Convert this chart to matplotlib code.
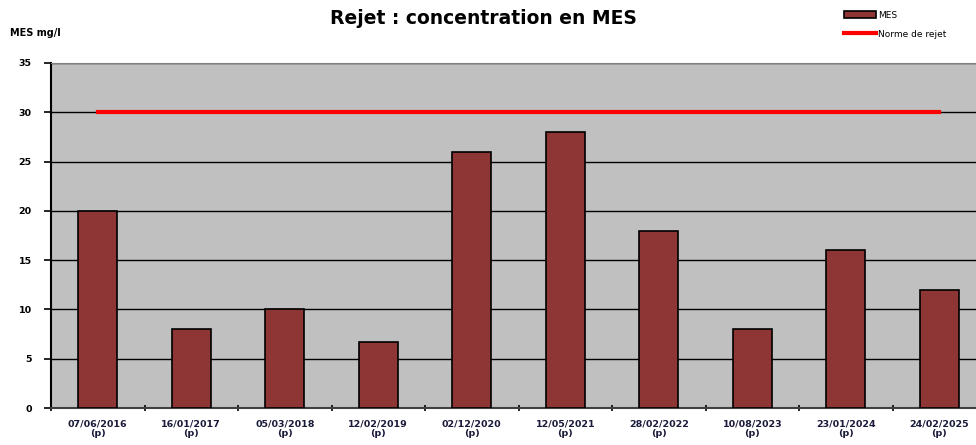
import matplotlib.pyplot as plt
import numpy as np

# MES sampling dates (p = ponctuel) and measured concentrations in mg/l
dates = ["07/06/2016", "16/01/2017", "05/03/2018", "12/02/2019", "02/12/2020",
         "12/05/2021", "28/02/2022", "10/08/2023", "23/01/2024", "24/02/2025"]
mes_values = [20, 8, 10, 6.7, 26, 28, 18, 8, 16, 12]
norme_rejet = 30
y_ticks = [0, 5, 10, 15, 20, 25, 30, 35]

plt.rcParams["font.family"] = ["DejaVu Sans"]

fig = plt.figure(figsize=(9.76, 4.45), dpi=100)
# plot area runs past the right edge, as in the source image
ax = fig.add_axes([51 / 976, 1 - 408 / 445, 935 / 976, 345 / 445])
ax.set_facecolor("#c0c0c0")

x = np.arange(len(dates))
bars = ax.bar(x, mes_values, width=0.42, color="#8e3535", edgecolor="black",
              linewidth=1.2, zorder=3, label="MES")
line, = ax.plot([x[0], x[-1]], [norme_rejet, norme_rejet], color="#ff0000",
                linewidth=3, zorder=4, label="Norme de rejet")

ax.set_xlim(-0.5, len(dates) - 0.5)
ax.set_ylim(0, 35)
ax.set_yticks(y_ticks)
ax.set_yticklabels([str(v) for v in y_ticks], fontsize=6.8, fontweight="bold")
ax.yaxis.grid(True, color="black", linewidth=1, zorder=1)
ax.set_axisbelow(True)

ax.set_xticks(x)
ax.set_xticklabels([d + "\n(p)" for d in dates], fontsize=6.8, fontweight="bold",
                   color="#1a1a3a", linespacing=1.15)
ax.tick_params(axis="x", length=0, pad=8)
ax.set_xticks(np.arange(len(dates) + 1) - 0.5, minor=True)
ax.tick_params(axis="x", which="minor", length=4, width=1.2, direction="inout")
ax.tick_params(axis="y", length=5, width=1.2, direction="out", pad=9)

for side in ["top", "right"]:
    ax.spines[side].set_color("#808080")
ax.spines["left"].set_linewidth(1.5)
ax.spines["bottom"].set_linewidth(1.5)
ax.spines["bottom"].set_color("#404040")

fig.text(483 / 976, 1 - 18 / 445, "Rejet : concentration en MES", ha="center",
         va="center", fontsize=13.5, fontweight="bold")
fig.text(10 / 976, 1 - 33 / 445, "MES mg/l", ha="left", va="center",
         fontsize=7, fontweight="bold")

fig.legend(handles=[bars, line], loc="upper left",
           bbox_to_anchor=(840 / 976, 1 - 7 / 445),
           frameon=False, fontsize=6.5, handlelength=3.6, handletextpad=0.2,
           labelspacing=1.1, borderaxespad=0)

fig.savefig("out.png", dpi=100)
